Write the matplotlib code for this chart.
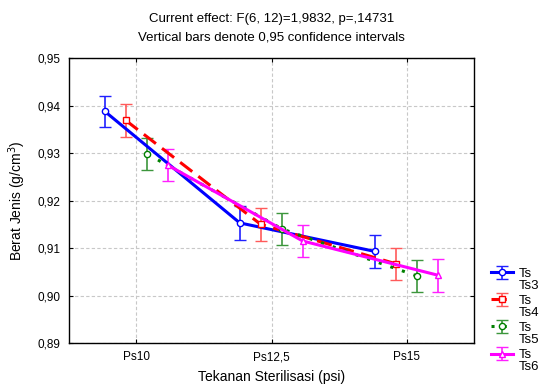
import numpy as np
import matplotlib
matplotlib.use("Agg")
import matplotlib.pyplot as plt
from matplotlib.ticker import FuncFormatter

plt.rcParams["font.family"] = ["Liberation Sans", "DejaVu Sans"]

categories = ["Ps10", "Ps12,5", "Ps15"]
series_names = ["Ts\nTs3", "Ts\nTs4", "Ts\nTs5", "Ts\nTs6"]

ts3_mean = [0.9388, 0.9153, 0.9093]
ts4_mean = [0.9369, 0.9150, 0.9067]
ts5_mean = [0.9298, 0.9140, 0.9041]
ts6_mean = [0.9275, 0.9115, 0.9043]

ts3_ci = [0.0033, 0.0035, 0.0034]
ts4_ci = [0.0035, 0.0035, 0.0034]
ts5_ci = [0.0034, 0.0034, 0.0034]
ts6_ci = [0.0034, 0.0034, 0.0035]

means = [ts3_mean, ts4_mean, ts5_mean, ts6_mean]
cis = [ts3_ci, ts4_ci, ts5_ci, ts6_ci]

offsets = [-0.235, -0.08, 0.08, 0.23]
line_colors = ["#0000ff", "#ff0000", "#008000", "#ff00ff"]
bar_colors = ["#2020ff", "#ff5a5a", "#3c963c", "#ff20ff"]
markers = ["o", "s", "o", "^"]
styles = ["-", (0, (5, 2.5)), (0, (1, 3)), "-"]

fig = plt.figure(figsize=(5.43, 3.85), dpi=100)
ax = fig.add_axes([0.127, 0.109, 0.746, 0.740])

x = np.arange(len(categories))
handles = []
for i in range(4):
    xi = x + offsets[i]
    h = ax.errorbar(xi, means[i], yerr=cis[i], color=line_colors[i],
                    ecolor=bar_colors[i], elinewidth=1.2, capsize=4.5, capthick=1.2,
                    linestyle=styles[i], linewidth=2.2, marker=markers[i],
                    markersize=4.5, markerfacecolor="white",
                    markeredgecolor=line_colors[i], markeredgewidth=1.0,
                    label=series_names[i], zorder=3)
    handles.append(h)

ax.set_xlim(-0.5, 2.5)
ax.set_ylim(0.89, 0.95)
ax.set_xticks(x)
ax.set_xticklabels(categories)
ax.set_yticks(np.arange(0.89, 0.9501, 0.01))
ax.yaxis.set_major_formatter(FuncFormatter(lambda v, p: f"{v:.2f}".replace(".", ",")))
ax.tick_params(direction="in", length=3, labelsize=8.5, top=True, right=True, pad=6)
ax.grid(True, color="#c8c8c8", linestyle=(0, (3, 2)), linewidth=0.8)
ax.set_axisbelow(True)
for sp in ax.spines.values():
    sp.set_linewidth(1.0)

ax.set_xlabel("Tekanan Sterilisasi (psi)", fontsize=10, labelpad=5)
ax.set_ylabel("Berat Jenis (g/cm$^3$)", fontsize=10, labelpad=7)
ax.set_title("Current effect: F(6, 12)=1,9832, p=,14731\n"
             "Vertical bars denote 0,95 confidence intervals",
             fontsize=9.5, pad=13, linespacing=1.7)

leg = ax.legend(handles=handles, loc="upper left", bbox_to_anchor=(1.03, 0.283),
                frameon=False, fontsize=9.5, handlelength=1.6, handletextpad=0.45,
                labelspacing=0.22, borderaxespad=0)
for t in leg.get_texts():
    t.set_linespacing(1.02)
# put the handle next to the first line of each two-line label
for col in leg._legend_handle_box.get_children():
    for item in col.get_children():
        item.align = "top"

fig.savefig("out.png", dpi=100)
